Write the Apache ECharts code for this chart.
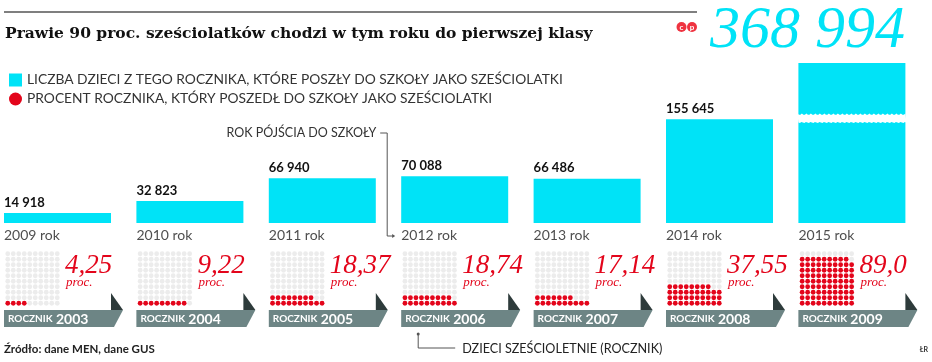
<!DOCTYPE html>
<html>
<head>
<meta charset="utf-8">
<script src="https://cdn.jsdelivr.net/npm/echarts@6/dist/echarts.min.js"></script>
<style>
    html, body { margin: 0; padding: 0; background: #fff; }
    #chart { width: 932px; height: 362px; }
</style>
</head>
<body>
<div id="chart"></div>
<script>
// dane
const years = ['2009 rok', '2010 rok', '2011 rok', '2012 rok', '2013 rok', '2014 rok', '2015 rok'];
const children = [14918, 32823, 66940, 70088, 66486, 155645, 368994];
const percents = [4.25, 9.22, 18.37, 18.74, 17.14, 37.55, 89.0];
const percentLabels = ['4,25', '9,22', '18,37', '18,74', '17,14', '37,55', '89,0'];
const cohorts = ['2003', '2004', '2005', '2006', '2007', '2008', '2009'];

const nameBars = 'LICZBA DZIECI Z TEGO ROCZNIKA, KTÓRE POSZŁY DO SZKOŁY JAKO SZEŚCIOLATKI';
const nameDots = 'PROCENT ROCZNIKA, KTÓRY POSZEDŁ DO SZKOŁY JAKO SZEŚCIOLATKI';

const CYAN = '#00e3f7';
const RED = '#e3051b';
const SANS = 'Lato';
const SERIF = "'Liberation Serif'";

// uklad
const band = 132.4, gridLeft = -8.7, barW = 107;
const barLeft = i => gridLeft + band * i + band / 2 - barW / 2;

function fmt(v) {
    return String(v).replace(/\B(?=(\d{3})+(?!\d))/g, ' ');
}

const chart = echarts.init(document.getElementById('chart'));

// siatki: 0 = slupki, 1..7 = kropki
const grids = [{ left: gridLeft, top: 63, width: band * 7, height: 160, outerBoundsMode: 'none' }];
const xAxes = [{ type: 'category', data: years, gridIndex: 0, show: false }];
const yAxes = [{ type: 'value', min: 0, max: 240000, gridIndex: 0, show: false }];
const series = [
    {
        name: nameBars,
        type: 'bar',
        xAxisIndex: 0, yAxisIndex: 0,
        barWidth: barW,
        clip: true,
        itemStyle: { color: CYAN },
        label: {
            show: true,
            position: [0, -17],
            formatter: p => fmt(p.value),
            fontFamily: SANS, fontWeight: 'bold', fontSize: 13, color: '#111'
        },
        data: children.map((v, i) => i === children.length - 1 ? { value: v, label: { show: false } } : v)
    },
    {
        // podpisy lat pod slupkami
        type: 'scatter',
        xAxisIndex: 0, yAxisIndex: 0,
        symbolSize: 1,
        itemStyle: { color: 'rgba(0,0,0,0)' },
        silent: true,
        label: {
            show: true,
            position: [-barW / 2 + 0.5, 6],
            formatter: p => years[p.dataIndex],
            fontFamily: SANS, fontSize: 14, color: '#222'
        },
        data: years.map((y, i) => [i, 0])
    }
];

percents.forEach((pct, i) => {
    grids.push({ left: barLeft(i) + 1, top: 251, width: 55, height: 55, outerBoundsMode: 'none' });
    xAxes.push({ type: 'value', min: 0, max: 10, gridIndex: i + 1, show: false });
    yAxes.push({ type: 'value', min: 0, max: 10, gridIndex: i + 1, show: false });
    const filled = Math.round(pct);
    const dots = [];
    for (let k = 0; k < 100; k++) {
        const pt = [k % 10 + 0.5, Math.floor(k / 10) + 0.5];
        dots.push(k < filled ? pt : { value: pt, itemStyle: { color: '#ececec' } });
    }
    series.push({
        name: nameDots,
        type: 'scatter',
        xAxisIndex: i + 1, yAxisIndex: i + 1,
        symbolSize: 4.8,
        silent: true,
        itemStyle: { color: RED, opacity: 1 },
        data: dots
    });
});

chart.setOption({
    animation: false,
    title: {
        text: 'Prawie 90 proc. sześciolatków chodzi w tym roku do pierwszej klasy',
        left: 0, top: 21,
        textStyle: { fontFamily: "'DejaVu Serif'", fontWeight: 'bold', fontSize: 15.5, color: '#111' }
    },
    legend: {
        orient: 'vertical',
        left: 4, top: 68,
        itemWidth: 13, itemHeight: 13, itemGap: 5,
        selectedMode: false,
        textStyle: { fontFamily: SANS, fontSize: 13.8, color: '#333' },
        data: [{ name: nameBars, icon: 'rect' }, { name: nameDots, icon: 'circle' }]
    },
    grid: grids,
    xAxis: xAxes,
    yAxis: yAxes,
    series: series
});

// dekoracje
const graphic = [];
const line = (pts, w) => ({
    type: 'polyline', shape: { points: pts },
    style: { stroke: '#555', lineWidth: w || 1, fill: null }, silent: true
});

// linia nad tytulem
graphic.push(line([[4, 12], [697, 12]], 1.5));
// ikonka
[[681.5, 27, 'c'], [692, 27, 'p']].forEach(c => {
    graphic.push({ type: 'circle', shape: { cx: c[0], cy: c[1], r: 5 }, style: { fill: '#ef3340' } });
    graphic.push({ type: 'text', x: c[0], y: c[1], style: { text: c[2], fill: '#fff', font: 'bold 8px ' + SANS, align: 'center', verticalAlign: 'middle' } });
});

// duza liczba 2015
graphic.push({
    type: 'text', x: 905, y: 31,
    style: { text: fmt(children[6]), fill: CYAN, font: 'italic 60px ' + SERIF, align: 'right', verticalAlign: 'middle' }
});

// przerwa w slupku 2015 (falista krawedz)
const c6 = chart.convertToPixel({ xAxisIndex: 0, yAxisIndex: 0 }, [6, 0]);
const b6 = c6[0] - barW / 2;
const wave = [];
for (let x = 0; x <= barW + 2; x += 1.5) wave.push([b6 - 1 + x, 113.5 + 1.5 * Math.abs(Math.sin(x * Math.PI / 4.5))]);
for (let x = barW + 2; x >= 0; x -= 1.5) wave.push([b6 - 1 + x, 121.5 + 1.5 * Math.abs(Math.sin(x * Math.PI / 4.5))]);
graphic.push({ type: 'polygon', z: 100, shape: { points: wave }, style: { fill: '#fff' }, silent: true });

// etykiety procentow i wstazki rocznikow
years.forEach((y, i) => {
    const c = chart.convertToPixel({ xAxisIndex: 0, yAxisIndex: 0 }, [i, 0]);
    const b = c[0] - barW / 2;
    graphic.push({
        type: 'text', x: b + 61, y: 266,
        style: { text: percentLabels[i], fill: RED, font: 'italic 27px ' + SERIF, align: 'left', verticalAlign: 'middle' }
    });
    graphic.push({
        type: 'text', x: b + 62, y: 283,
        style: { text: 'proc.', fill: RED, font: 'italic 13px ' + SERIF, align: 'left', verticalAlign: 'middle' }
    });
    graphic.push({
        type: 'polygon', shape: { points: [[b, 310], [b + 119, 310], [b + 110, 327], [b, 327]] },
        style: { fill: '#6d8585' }, silent: true
    });
    graphic.push({
        type: 'polygon', shape: { points: [[b + 107, 293], [b + 107, 310], [b + 119, 310]] },
        style: { fill: '#2e3b3b' }, silent: true
    });
    graphic.push({
        type: 'text', x: b + 4, y: 319, z: 10,
        style: {
            text: '{a|ROCZNIK} {b|' + cohorts[i] + '}',
            verticalAlign: 'middle',
            rich: {
                a: { fill: '#fff', font: 'bold 10px ' + SANS },
                b: { fill: '#fff', font: 'bold 14px ' + SANS }
            }
        }
    });
});

// adnotacja: rok pojscia do szkoly
const c3 = chart.convertToPixel({ xAxisIndex: 0, yAxisIndex: 0 }, [3, 0]);
const b3 = c3[0] - barW / 2;
graphic.push({
    type: 'text', x: b3 - 25, y: 133,
    style: { text: 'ROK PÓJŚCIA DO SZKOŁY', fill: '#333', font: '12.5px ' + SANS, align: 'right', verticalAlign: 'middle' }
});
graphic.push(line([[b3 - 21, 133], [b3 - 14, 133], [b3 - 14, 236], [b3 - 8, 236]]));
graphic.push({ type: 'polygon', shape: { points: [[b3 - 6, 236], [b3 - 9, 234], [b3 - 9, 238]] }, style: { fill: '#555' } });

// adnotacja: dzieci szescioletnie
graphic.push({ type: 'circle', shape: { cx: b3 + 17, cy: 334, r: 1.5 }, style: { fill: '#555' } });
graphic.push(line([[b3 + 17, 334], [b3 + 17, 348], [b3 + 54, 348]]));
graphic.push({
    type: 'text', x: b3 + 61, y: 349,
    style: { text: 'DZIECI SZEŚCIOLETNIE (ROCZNIK)', fill: '#222', font: '12.6px ' + SANS, align: 'left', verticalAlign: 'middle' }
});

// zrodlo
graphic.push({
    type: 'text', x: 4, y: 349,
    style: { text: 'Źródło: dane MEN, dane GUS', fill: '#222', font: 'bold 11.5px ' + SANS, align: 'left', verticalAlign: 'middle' }
});
graphic.push({
    type: 'text', x: 928, y: 350,
    style: { text: 'ŁR', fill: '#333', font: 'bold 7px ' + SANS, align: 'right', verticalAlign: 'middle' }
});

chart.setOption({ graphic: graphic });
</script>
</body>
</html>
